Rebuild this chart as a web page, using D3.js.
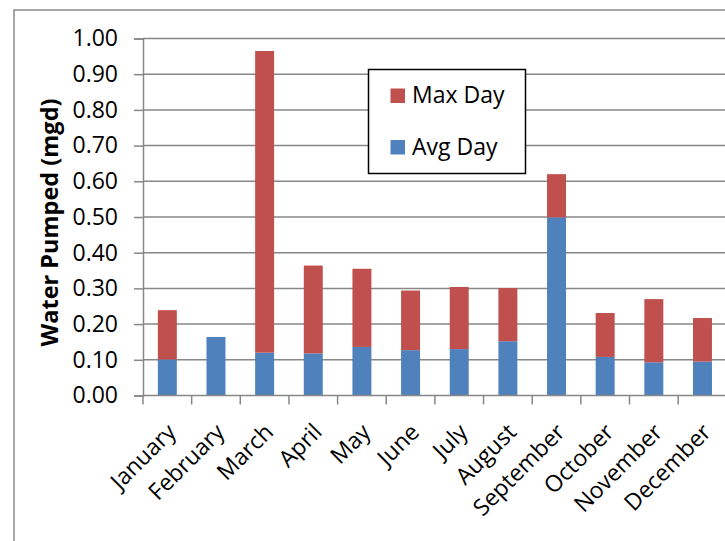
<!DOCTYPE html>
<html>
<head>
<meta charset="utf-8">
<script src="https://cdn.jsdelivr.net/npm/d3@7"></script>
<style>
  html, body { margin: 0; padding: 0; background: #fff; }
  svg { display: block; }
  text { font-family: "Open Sans", "Lato", sans-serif; fill: #000; }
</style>
</head>
<body>
<svg id="chart" width="725" height="541"></svg>
<script>
// Monthly water pumped (million gallons per day)
const months = ["January", "February", "March", "April", "May", "June",
                "July", "August", "September", "October", "November", "December"];
const avgDay = [0.101, 0.164, 0.120, 0.118, 0.136, 0.127, 0.130, 0.152, 0.499, 0.108, 0.093, 0.095];
const maxDay = [0.239, 0.164, 0.965, 0.364, 0.355, 0.294, 0.304, 0.301, 0.620, 0.231, 0.270, 0.217];
const yTicks = [0, 0.1, 0.2, 0.3, 0.4, 0.5, 0.6, 0.7, 0.8, 0.9, 1.0];
const seriesNames = ["Max Day", "Avg Day"];
const seriesColors = ["#C0504D", "#4F81BD"];

const svg = d3.select("#chart");
const gridColor = "#878787";
const fontSize = 23;

// outer chart frame
svg.append("rect")
  .attr("x", 14).attr("y", 10)
  .attr("width", 760).attr("height", 600)
  .attr("fill", "none").attr("stroke", "#8a8a8a").attr("stroke-width", 1.5);

const plot = { left: 143, top: 38.5, bottom: 395.5, bandWidth: 48.65 };
plot.right = plot.left + plot.bandWidth * months.length;

const x = d3.scaleBand().domain(months).range([plot.left, plot.right]).paddingInner(0.61).paddingOuter(0.305);
const xGroup = d3.scaleBand().domain(months).range([plot.left, plot.right]);
const y = d3.scaleLinear().domain([0, 1]).range([plot.bottom, plot.top]);

// horizontal gridlines
svg.append("g").selectAll("line").data(yTicks.slice(1)).join("line")
  .attr("x1", plot.left).attr("x2", plot.right)
  .attr("y1", d => y(d)).attr("y2", d => y(d))
  .attr("stroke", gridColor).attr("stroke-width", 1.5);

// y axis
const yAxis = svg.append("g")
  .attr("transform", `translate(${plot.left},0)`)
  .call(d3.axisLeft(y).tickValues(yTicks).tickFormat(d3.format(".2f")).tickSize(9).tickPadding(16));
yAxis.select(".domain").attr("stroke", gridColor).attr("stroke-width", 1.5);
yAxis.selectAll(".tick line").attr("stroke", gridColor).attr("stroke-width", 1.5);
yAxis.selectAll(".tick text").attr("font-size", fontSize).attr("font-family", "Open Sans").attr("fill", "#000");

// stacked bars: average day at the base, max day on top
const bars = svg.append("g");
bars.selectAll("rect.avg").data(months).join("rect")
  .attr("class", "avg")
  .attr("x", d => x(d)).attr("width", x.bandwidth())
  .attr("y", (d, i) => y(avgDay[i]))
  .attr("height", (d, i) => y(0) - y(avgDay[i]))
  .attr("fill", seriesColors[1]);
bars.selectAll("rect.max").data(months).join("rect")
  .attr("class", "max")
  .attr("x", d => x(d)).attr("width", x.bandwidth())
  .attr("y", (d, i) => y(maxDay[i]))
  .attr("height", (d, i) => Math.max(0, y(avgDay[i]) - y(maxDay[i])))
  .attr("fill", seriesColors[0]);

// x axis with tick marks at category boundaries
const xAxisG = svg.append("g");
xAxisG.append("line")
  .attr("x1", plot.left).attr("x2", plot.right)
  .attr("y1", plot.bottom).attr("y2", plot.bottom)
  .attr("stroke", gridColor).attr("stroke-width", 1.5);
xAxisG.selectAll("line.tick").data(months).join("line")
  .attr("class", "tick")
  .attr("x1", d => xGroup(d)).attr("x2", d => xGroup(d))
  .attr("y1", plot.bottom).attr("y2", plot.bottom + 9)
  .attr("stroke", gridColor).attr("stroke-width", 1.5);
xAxisG.selectAll("text").data(months).join("text")
  .attr("transform", d => `translate(${xGroup(d) + xGroup.bandwidth() / 2 + 10},${plot.bottom + 38}) rotate(-45)`)
  .attr("text-anchor", "end")
  .attr("font-size", fontSize)
  .text(d => d);

// y axis title
svg.append("text")
  .attr("transform", `translate(58,222.5) rotate(-90)`)
  .attr("text-anchor", "middle")
  .attr("font-size", 23.5).attr("font-weight", "bold")
  .text("Water Pumped (mgd)");

// legend
const legend = svg.append("g").attr("transform", "translate(368.5,69.5)");
legend.append("rect").attr("width", 157).attr("height", 104)
  .attr("fill", "#fff").attr("stroke", "#000").attr("stroke-width", 1.5);
const items = legend.selectAll("g.item").data(seriesNames).join("g")
  .attr("class", "item")
  .attr("transform", (d, i) => `translate(22,${19 + i * 51.5})`);
items.append("rect").attr("width", 14.5).attr("height", 14.5)
  .attr("fill", (d, i) => seriesColors[i]);
items.append("text").attr("x", 21.5).attr("y", 14.5).attr("font-size", fontSize).text(d => d);
</script>
</body>
</html>
